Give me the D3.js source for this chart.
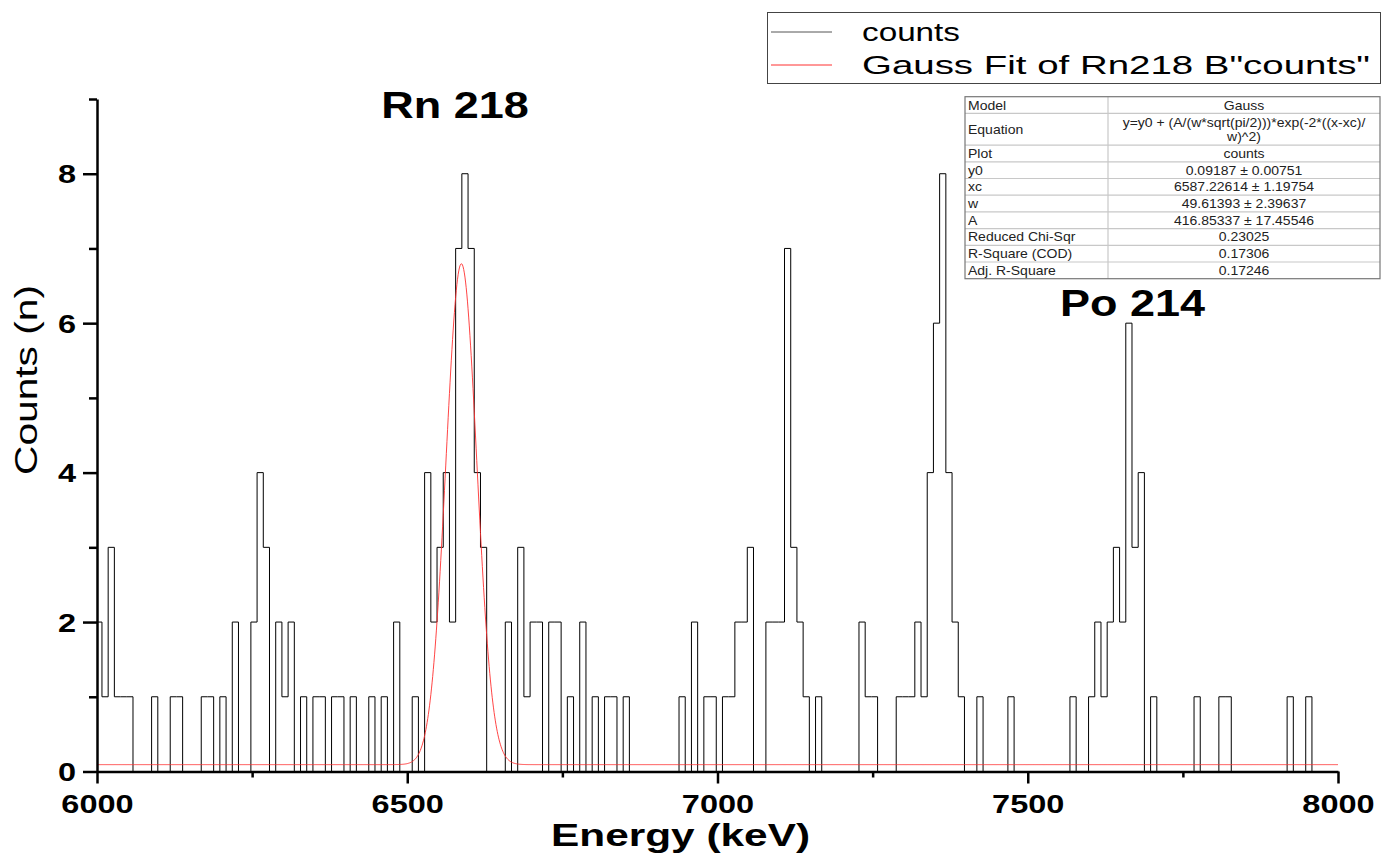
<!DOCTYPE html>
<html lang="en">
<head>
<meta charset="UTF-8">
<title>Counts vs Energy - Rn 218 / Po 214</title>
<script src="https://d3js.org/d3.v7.min.js"></script>
<style>
  body { margin: 0; background: #fff; }
  svg { display: block; font-family: "Liberation Sans", Arial, sans-serif; }
</style>
</head>
<body>
<div id="chart"></div>
<script>
// histogram: 10 keV bins, first bin starts at 5998 keV
const binStart = 5998;
const binWidth = 10;
const counts = [
  2, 1, 3, 1, 1, 1, 0, 0, 0, 1, 0, 0, 1, 1, 0, 0, 0, 1, 1, 0,
  1, 0, 2, 0, 0, 2, 4, 3, 0, 2, 1, 2, 0, 1, 0, 1, 1, 0, 1, 1,
  0, 1, 0, 0, 1, 0, 1, 0, 2, 0, 0, 1, 0, 4, 2, 3, 4, 2, 7, 8,
  7, 4, 3, 0, 0, 0, 2, 0, 3, 1, 2, 2, 0, 2, 2, 0, 1, 0, 2, 0,
  1, 0, 1, 1, 0, 1, 0, 0, 0, 0, 0, 0, 0, 0, 1, 0, 2, 0, 1, 1,
  0, 1, 1, 2, 2, 3, 0, 0, 2, 2, 2, 7, 3, 2, 1, 0, 1, 0, 0, 0,
  0, 0, 0, 2, 1, 1, 0, 0, 0, 1, 1, 1, 2, 1, 4, 6, 8, 4, 2, 1,
  0, 0, 1, 0, 0, 0, 0, 1, 0, 0, 0, 0, 0, 0, 0, 0, 0, 1, 0, 0,
  1, 2, 1, 2, 3, 2, 6, 3, 4, 0, 1, 0, 0, 0, 0, 0, 0, 1, 0, 0,
  0, 1, 1, 0, 0, 0, 0, 0, 0, 0, 0, 0, 1, 0, 0, 1, 0, 0, 0, 0,
  0
];

const xTicks = [6000, 6500, 7000, 7500, 8000];
const xMinor = [6250, 6750, 7250, 7750];
const yTicks = [0, 2, 4, 6, 8];
const yMinor = [1, 3, 5, 7, 9];

// Gauss fit result (values from the fit table)
const fitY0 = 0.09187, fitXc = 6587.22614, fitW = 49.61393, fitA = 416.85337;

const tableLabels = ["Model", "Equation", "Plot", "y0", "xc", "w", "A",
  "Reduced Chi-Sqr", "R-Square (COD)", "Adj. R-Square"];
const tableValues = ["Gauss",
  ["y=y0 + (A/(w*sqrt(pi/2)))*exp(-2*((x-xc)/", "w)^2)"],
  "counts", "0.09187 \u00b1 0.00751", "6587.22614 \u00b1 1.19754",
  "49.61393 \u00b1 2.39637", "416.85337 \u00b1 17.45546",
  "0.23025", "0.17306", "0.17246"];

const legendLabels = ["counts", "Gauss Fit of Rn218 B\"counts\""];
const peakLabels = [
  { text: "Rn 218", x: 6577, y: 8.75 },
  { text: "Po 214", x: 7669, y: 6.1 }
];

const W = 1394, H = 855;
const svg = d3.select("#chart").append("svg")
  .attr("width", W).attr("height", H);

const x = d3.scaleLinear().domain([6000, 8000]).range([97, 1338]);
const y = d3.scaleLinear().domain([0, 9]).range([771.5, 99]);

// text squeezed/stretched horizontally like the original export
function stext(g, px, py, str, size, sx, opts = {}) {
  return g.append("text")
    .attr("transform", `translate(${px},${py}) scale(${sx},1)`)
    .attr("font-size", size)
    .attr("font-weight", opts.bold ? "bold" : "normal")
    .attr("text-anchor", opts.anchor || "start")
    .attr("fill", opts.fill || "#000")
    .text(str);
}

// clip for the plot area
svg.append("clipPath").attr("id", "plotclip")
  .append("rect").attr("x", 97).attr("y", 0).attr("width", 1338 - 97).attr("height", 771.5);

// histogram as a step line
const pts = counts.map((c, i) => [binStart + i * binWidth, c]);
pts.push([binStart + counts.length * binWidth, counts[counts.length - 1]]);
const stepLine = d3.line()
  .x(d => x(d[0])).y(d => y(d[1]))
  .curve(d3.curveStepAfter);
svg.append("path")
  .datum(pts)
  .attr("clip-path", "url(#plotclip)")
  .attr("fill", "none")
  .attr("stroke", "#000")
  .attr("stroke-width", 1)
  .attr("d", stepLine);

// gauss fit curve
const gauss = e => fitY0 + fitA / (fitW * Math.sqrt(Math.PI / 2)) * Math.exp(-2 * Math.pow((e - fitXc) / fitW, 2));
const fitPts = d3.range(6000, 8000.5, 1).map(e => [e, gauss(e)]);
svg.append("path")
  .datum(fitPts)
  .attr("clip-path", "url(#plotclip)")
  .attr("fill", "none")
  .attr("stroke", "#ff3030")
  .attr("stroke-width", 0.9)
  .attr("d", d3.line().x(d => x(d[0])).y(d => y(d[1])));

// axes
const tickSx = 1.25;
const xAxis = svg.append("g").attr("transform", `translate(0,${y(0)})`)
  .call(d3.axisBottom(x).tickValues(xTicks).tickSize(12).tickSizeOuter(0).tickFormat(d3.format("d")));
svg.append("g").attr("transform", `translate(0,${y(0)})`)
  .call(d3.axisBottom(x).tickValues(xMinor).tickSize(6).tickSizeOuter(0).tickFormat(""))
  .select(".domain").remove();
xAxis.selectAll("text")
  .attr("y", null).attr("dy", null)
  .attr("transform", `translate(0,41) scale(${tickSx},1)`)
  .attr("font-size", 26).attr("font-weight", "bold")
  .attr("font-family", "Liberation Sans, Arial, sans-serif").attr("fill", "#000");

const yAxis = svg.append("g").attr("transform", `translate(${x(6000)},0)`)
  .call(d3.axisLeft(y).tickValues(yTicks).tickSize(14).tickSizeOuter(0));
svg.append("g").attr("transform", `translate(${x(6000)},0)`)
  .call(d3.axisLeft(y).tickValues(yMinor).tickSize(8).tickSizeOuter(0).tickFormat(""))
  .select(".domain").remove();
yAxis.selectAll("text")
  .attr("x", null).attr("dy", null)
  .attr("transform", `translate(-21,9) scale(${tickSx},1)`)
  .attr("font-size", 26).attr("font-weight", "bold")
  .attr("font-family", "Liberation Sans, Arial, sans-serif").attr("fill", "#000");

svg.selectAll(".domain").attr("stroke", "#000").attr("stroke-width", 2.5);
svg.selectAll(".tick line").attr("stroke", "#000").attr("stroke-width", 2.5);

// axis titles
svg.append("text")
  .attr("x", 551).attr("y", 846)
  .attr("font-size", 32).attr("font-weight", "bold")
  .attr("textLength", 259).attr("lengthAdjust", "spacingAndGlyphs")
  .text("Energy (keV)");
svg.append("text")
  .attr("transform", "translate(37,475) rotate(-90)")
  .attr("font-size", 32)
  .attr("textLength", 190).attr("lengthAdjust", "spacingAndGlyphs")
  .text("Counts (n)");

// peak labels
svg.selectAll(".peak").data(peakLabels).enter().append("text")
  .attr("class", "peak")
  .attr("transform", d => `translate(${x(d.x)},${y(d.y)}) scale(1.25,1)`)
  .attr("text-anchor", "middle")
  .attr("font-size", 36).attr("font-weight", "bold")
  .text(d => d.text);

// legend
const lg = svg.append("g");
lg.append("rect").attr("x", 767.5).attr("y", 12.5).attr("width", 613).attr("height", 71)
  .attr("fill", "#fff").attr("stroke", "#444").attr("stroke-width", 1);
const legendColors = ["#555", "#ff3030"];
legendLabels.forEach((lab, i) => {
  const ly = 32 + i * 33;
  lg.append("line").attr("x1", 771).attr("x2", 832).attr("y1", ly).attr("y2", ly)
    .attr("stroke", legendColors[i]).attr("stroke-width", 1);
  lg.append("text").attr("x", 862).attr("y", ly + 9)
    .attr("font-size", 26)
    .attr("textLength", i === 0 ? 98 : 508).attr("lengthAdjust", "spacingAndGlyphs")
    .text(lab);
});

// fit result table
const tb = svg.append("g");
const tX0 = 965, tX1 = 1108, tX2 = 1380;
const rowH = tableLabels.map(l => l === "Equation" ? 31.7 : 16.7);
const rowY = [96.7];
rowH.forEach((h, i) => rowY.push(rowY[i] + h));
tb.append("rect").attr("x", tX0).attr("y", rowY[0]).attr("width", tX2 - tX0)
  .attr("height", rowY[rowY.length - 1] - rowY[0]).attr("fill", "#fff");
rowY.slice(1, -1).forEach(ry => {
  tb.append("line").attr("x1", tX0).attr("x2", tX2).attr("y1", ry).attr("y2", ry)
    .attr("stroke", "#c8c8c8").attr("stroke-width", 1.2);
});
tb.append("line").attr("x1", tX1).attr("x2", tX1).attr("y1", rowY[0]).attr("y2", rowY[rowY.length - 1])
  .attr("stroke", "#c8c8c8").attr("stroke-width", 1.2);
tb.append("rect").attr("x", tX0).attr("y", rowY[0]).attr("width", tX2 - tX0)
  .attr("height", rowY[rowY.length - 1] - rowY[0])
  .attr("fill", "none").attr("stroke", "#777").attr("stroke-width", 1.2);
const cellSx = 1.12, cellFs = 12.5;
tableLabels.forEach((lab, i) => {
  const cy = (rowY[i] + rowY[i + 1]) / 2 + 4.5;
  stext(tb, tX0 + 3, cy, lab, cellFs, cellSx, { fill: "#222" });
  const v = tableValues[i];
  const cx = (tX1 + tX2) / 2;
  if (Array.isArray(v)) {
    stext(tb, cx, cy - 7, v[0], cellFs, cellSx, { anchor: "middle", fill: "#222" });
    stext(tb, cx, cy + 7, v[1], cellFs, cellSx, { anchor: "middle", fill: "#222" });
  } else {
    stext(tb, cx, cy, v, cellFs, cellSx, { anchor: "middle", fill: "#222" });
  }
});
</script>
</body>
</html>
